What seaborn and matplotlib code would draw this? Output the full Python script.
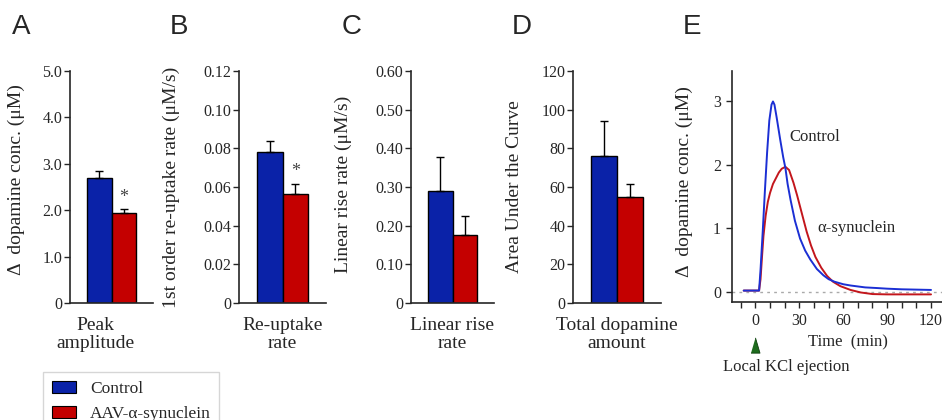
import numpy as np
import pandas as pd
import matplotlib
matplotlib.use("Agg")
import matplotlib.pyplot as plt
import matplotlib.transforms as mtransforms
from matplotlib.patches import Patch
from matplotlib.ticker import FixedLocator
import seaborn as sns

# ---- data ------------------------------------------------------------------
groups = ["Control", "AAV-α-synuclein"]
bar_colors = ["#0a22a8", "#c40000"]

panel_letters = ["A", "B", "C", "D", "E"]
bar_metrics = ["Peak\namplitude", "Re-uptake\nrate", "Linear rise\nrate", "Total dopamine\namount"]
bar_ylabels = ["Δ  dopamine conc. (μM)", "1st order re-uptake rate (μM/s)",
               "Linear rise rate (μM/s)", "Area Under the Curve"]
bar_means = [[2.69, 1.95], [0.0783, 0.0565], [0.29, 0.175], [76, 55]]
bar_errs = [[0.15, 0.07], [0.0055, 0.0051], [0.088, 0.05], [18, 6.5]]
bar_signif = [[False, True], [False, True], [False, False], [False, False]]
bar_yticks = [[0, 1, 2, 3, 4, 5],
              [0, 0.02, 0.04, 0.06, 0.08, 0.10, 0.12],
              [0, 0.1, 0.2, 0.3, 0.4, 0.5, 0.6],
              [0, 20, 40, 60, 80, 100, 120]]
bar_yticklabels = [["0", "1.0", "2.0", "3.0", "4.0", "5.0"],
                   ["0", "0.02", "0.04", "0.06", "0.08", "0.10", "0.12"],
                   ["0", "0.10", "0.20", "0.30", "0.40", "0.50", "0.60"],
                   ["0", "20", "40", "60", "80", "100", "120"]]

# time course (min) of panel E
ctrl_t = [-8, 0, 2.5, 3.5, 5, 6.5, 8, 9.5, 11, 12, 13, 14.5, 17, 19, 20.5, 22, 24, 27,
          30.5, 34, 37.5, 42, 46.5, 50, 54, 60, 65, 75, 83, 90, 100, 110, 120]
ctrl_v = [0.02, 0.02, 0.02, 0.35, 0.95, 1.6, 2.2, 2.7, 2.95, 3.0, 2.95, 2.75, 2.39, 2.12,
          1.95, 1.7, 1.45, 1.12, 0.84, 0.65, 0.51, 0.36, 0.26, 0.2, 0.16, 0.12, 0.1,
          0.07, 0.06, 0.05, 0.04, 0.035, 0.03]
syn_t = [-8, 0, 2.5, 3.5, 4.5, 5.5, 7, 8.5, 10, 12, 14, 16, 18, 20.5, 23, 26, 28.5, 31,
         35, 38, 41, 45, 49, 53, 58, 65, 72, 80, 90, 100, 110, 120]
syn_v = [0.02, 0.02, 0.02, 0.2, 0.55, 0.88, 1.2, 1.42, 1.56, 1.7, 1.79, 1.88, 1.94, 1.97,
         1.92, 1.72, 1.52, 1.3, 0.95, 0.73, 0.55, 0.38, 0.25, 0.16, 0.09, 0.03, -0.01,
         -0.035, -0.04, -0.04, -0.04, -0.04]
curve_names = ["Control", "α-synuclein"]
curve_colors = ["#1b2fd4", "#c3161c"]

# ---- style -------------------------------------------------------------------
sns.set_style("ticks")
plt.rcParams["font.family"] = ["Liberation Serif", "DejaVu Serif"]
plt.rcParams["axes.linewidth"] = 1.2
plt.rcParams["xtick.major.width"] = 1.0
plt.rcParams["ytick.major.width"] = 1.0
plt.rcParams["xtick.minor.width"] = 1.0

TICK_FS = 11.5
LAB_FS = 14

fig = plt.figure(figsize=(9.42, 4.2), dpi=100)
W, H = 942, 420


def px_axes(x0, y0, x1, y1):
    """Add axes from pixel box (left, top, right, bottom)."""
    return fig.add_axes([x0 / W, 1 - y1 / H, (x1 - x0) / W, (y1 - y0) / H])


bar_boxes = [(70, 71, 153, 303), (239, 71, 326, 303), (411, 71, 494, 303), (573, 71, 661, 303)]
ylab_x = [-0.54, -0.68, -0.71, -0.57]
ylab_y = [0.53, 0.5, 0.51, 0.5]
xlab_x = [0.31, 0.5, 0.5, 0.5]

for i, box in enumerate(bar_boxes):
    ax = px_axes(*box)
    df = pd.DataFrame({"metric": [bar_metrics[i]] * 2, "group": groups,
                       "value": bar_means[i]})
    sns.barplot(data=df, x="metric", y="value", hue="group", hue_order=groups,
                palette=bar_colors, saturation=1, width=0.8, edgecolor="black",
                linewidth=1.0, errorbar=None, legend=False, ax=ax)
    bars = sorted(ax.patches, key=lambda p: p.get_x())
    for bar, m, e, sig in zip(bars, bar_means[i], bar_errs[i], bar_signif[i]):
        xc = bar.get_x() + bar.get_width() / 2
        ax.errorbar(xc, m, yerr=[[0], [e]], fmt="none", ecolor="black",
                    elinewidth=1.0, capsize=3, capthick=1.0)
        if sig:
            ax.annotate("*", (xc, m + e), xytext=(0, 2.5), textcoords="offset points",
                        ha="center", va="bottom", fontsize=13, color="#444444")
    ax.set_xlim(-0.68, 0.68)
    ax.set_ylim(0, bar_yticks[i][-1])
    ax.set_yticks(bar_yticks[i])
    ax.set_yticklabels(bar_yticklabels[i], fontsize=TICK_FS)
    ax.set_xticks([])
    ax.tick_params(axis="y", direction="out", length=4, pad=1.5)
    ax.set_ylabel(bar_ylabels[i], fontsize=LAB_FS)
    ax.yaxis.set_label_coords(ylab_x[i], ylab_y[i])
    ax.set_xlabel(bar_metrics[i], fontsize=LAB_FS, linespacing=1.1)
    ax.xaxis.set_label_coords(xlab_x[i], -0.06)
    sns.despine(ax=ax)

# ---- panel E: time course ------------------------------------------------------
axe = px_axes(732, 71, 942, 302)
curves = pd.concat([
    pd.DataFrame({"t": ctrl_t, "v": ctrl_v, "group": curve_names[0]}),
    pd.DataFrame({"t": syn_t, "v": syn_v, "group": curve_names[1]}),
])
axe.axhline(0, color="#aaaaaa", lw=1.0, ls=(0, (2, 3)), zorder=0)
sns.lineplot(data=curves, x="t", y="v", hue="group", hue_order=curve_names[::-1],
             palette=curve_colors[::-1], estimator=None, linewidth=1.4,
             legend=False, ax=axe)
axe.set_xlim(-16, 127.5)
axe.set_ylim(-0.16, 3.48)
axe.xaxis.set_major_locator(FixedLocator([0, 30, 60, 90, 120]))
axe.xaxis.set_minor_locator(FixedLocator(list(range(-10, 121, 10))))
axe.set_yticks([0, 1, 2, 3])
axe.tick_params(axis="both", which="both", direction="out", length=4,
                labelsize=TICK_FS, pad=4)
axe.set_xlabel("")
axe.set_ylabel("Δ  dopamine conc. (μM)", fontsize=LAB_FS)
axe.yaxis.set_label_coords(-0.186, 0.52)
axe.text(23, 2.44, "Control", fontsize=12, ha="left", va="center")
axe.text(42, 1.0, "α-synuclein", fontsize=12, ha="left", va="center")
axe.text(0.552, -0.173, "Time  (min)", transform=axe.transAxes, fontsize=12,
         ha="center", va="center")
axe.text(-0.043, -0.281, "Local KCl ejection", transform=axe.transAxes, fontsize=12,
         ha="left", va="center")
trans = mtransforms.blended_transform_factory(axe.transData, axe.transAxes)
axe.plot([0], [-0.185], transform=trans, clip_on=False,
         marker=[(-1, -1.7), (1, -1.7), (0, 1.7)], markersize=11, color="#1e6b1e",
         markeredgecolor="#0d3d0d", markeredgewidth=0.6, linestyle="none")
sns.despine(ax=axe)

# ---- panel letters -------------------------------------------------------------
for letter, xp in zip(panel_letters, [12, 170, 342, 512, 683]):
    fig.text(xp / W, 1 - 27 / H, letter, fontsize=20, family="Liberation Sans",
             ha="left", va="center")

# ---- legend --------------------------------------------------------------------
handles = [Patch(facecolor=c, edgecolor="black", linewidth=0.8) for c in bar_colors]
leg = fig.legend(handles, groups, loc="upper left", bbox_to_anchor=(43 / W, 1 - 372 / H),
                 fontsize=12.5, frameon=True, fancybox=False, shadow=False,
                 handlelength=1.4, handleheight=0.7, handletextpad=0.8,
                 labelspacing=0.5, borderpad=0.5, borderaxespad=0)
leg.get_frame().set_edgecolor("#cccccc")
leg.get_frame().set_linewidth(1.0)

fig.savefig("out.png", dpi=100)
